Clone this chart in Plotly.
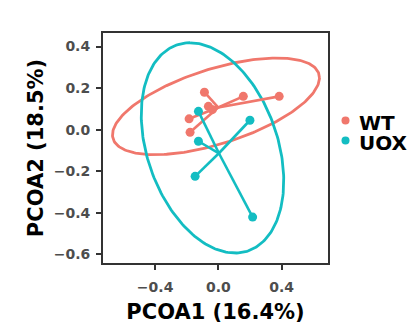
import numpy as np
import plotly.graph_objects as go

# ---- data ----
groups = ["WT", "UOX"]
group_colors = ["#F0776C", "#13BDC2"]

wt_x = [-0.088, 0.158, 0.385, -0.063, -0.185, -0.179, -0.038]
wt_y = [0.180, 0.160, 0.160, 0.112, 0.052, -0.013, 0.096]

uox_x = [-0.126, 0.200, -0.126, -0.147, 0.217]
uox_y = [0.088, 0.045, -0.056, -0.225, -0.421]

# confidence ellipses: centre and two conjugate half-diameters (data units)
wt_ell_center = [-0.015, 0.112]
wt_ell_u = [0.655, 0.137]
wt_ell_v = [0.0, 0.188]

uox_ell_center = [-0.037, -0.088]
uox_ell_u = [-0.142, 0.506]
uox_ell_v = [0.428, 0.0]

x_tick_vals = [-0.4, 0.0, 0.4]
x_tick_text = ["\u22120.4", "0.0", "0.4"]
y_tick_vals = [-0.6, -0.4, -0.2, 0.0, 0.2, 0.4]
y_tick_text = ["\u22120.6", "\u22120.4", "\u22120.2", "0.0", "0.2", "0.4"]

x_title = "PCOA1 (16.4%)"
y_title = "PCOA2 (18.5%)"

# ---- figure ----
FONT = "DejaVu Sans"
fig = go.Figure()

t = np.linspace(0, 2 * np.pi, 241)


def ellipse(center, u, v):
    ex = center[0] + u[0] * np.cos(t) + v[0] * np.sin(t)
    ey = center[1] + u[1] * np.cos(t) + v[1] * np.sin(t)
    return ex, ey


ells = [(wt_ell_center, wt_ell_u, wt_ell_v), (uox_ell_center, uox_ell_u, uox_ell_v)]
for (c, u, v), col, name in zip(ells, group_colors, groups):
    ex, ey = ellipse(c, u, v)
    fig.add_trace(go.Scatter(x=ex, y=ey, mode="lines", line=dict(color=col, width=2.8),
                             showlegend=False, hoverinfo="skip", name=name + " ellipse"))

for xs, ys, col, name in [(wt_x, wt_y, group_colors[0], groups[0]),
                          (uox_x, uox_y, group_colors[1], groups[1])]:
    cx, cy = float(np.mean(xs)), float(np.mean(ys))
    sx, sy = [], []
    for xv, yv in zip(xs, ys):
        sx += [cx, xv, None]
        sy += [cy, yv, None]
    fig.add_trace(go.Scatter(x=sx, y=sy, mode="lines", line=dict(color=col, width=2.6),
                             showlegend=False, hoverinfo="skip"))
    fig.add_trace(go.Scatter(x=xs, y=ys, mode="markers", name=name,
                             marker=dict(color=col, size=9), showlegend=False))

# ---- manual legend (pixel-placed) ----
L, R, T, B = 103, 81, 33, 70
W, H = 409, 333
pw, ph = W - L - R, H - T - B


def px_to_paper(px, py):
    return (px - L) / pw, (H - B - py) / ph


legend_rows = [(groups[0], group_colors[0], 120.5, 122.5), (groups[1], group_colors[1], 140.5, 142.5)]
for name, col, my_px, ty_px in legend_rows:
    mx, my = px_to_paper(345.5, my_px)
    fig.add_shape(type="circle", xref="paper", yref="paper", xsizemode="pixel", ysizemode="pixel",
                  xanchor=mx, yanchor=my, x0=-4, x1=4, y0=-4, y1=4,
                  fillcolor=col, line=dict(width=0))
    tx, ty = px_to_paper(356.5, ty_px)
    fig.add_annotation(x=tx, y=ty, xref="paper", yref="paper", xanchor="left", yanchor="middle",
                       text=name, showarrow=False,
                       font=dict(family=FONT, size=20, color="black", weight="bold"))

axis_common = dict(
    showline=True, mirror=True, linecolor="#333333", linewidth=2,
    ticks="outside", ticklen=5, tickwidth=2, tickcolor="#333333",
    showgrid=False, zeroline=False,
    tickfont=dict(family=FONT, size=14, color="#4D4D4D", weight="bold"),
)

fig.update_xaxes(range=[-0.73, 0.694], tickvals=x_tick_vals, ticktext=x_tick_text,
                 title=dict(text=x_title, font=dict(family=FONT, size=21, color="black", weight="bold"),
                            standoff=11),
                 ticklabelstandoff=5, **axis_common)
fig.update_yaxes(range=[-0.642, 0.465], tickvals=y_tick_vals, ticktext=y_tick_text,
                 title=dict(text=y_title, font=dict(family=FONT, size=21, color="black", weight="bold"),
                            standoff=4),
                 ticklabelstandoff=3, **axis_common)

fig.update_layout(
    width=W, height=H,
    margin=dict(l=L, r=R, t=T, b=B, autoexpand=False),
    plot_bgcolor="white", paper_bgcolor="white",
    showlegend=False,
)

fig.write_html("out.html", config={"displayModeBar": False},
               post_script="document.body.style.margin='0px';document.body.style.padding='0px';")
